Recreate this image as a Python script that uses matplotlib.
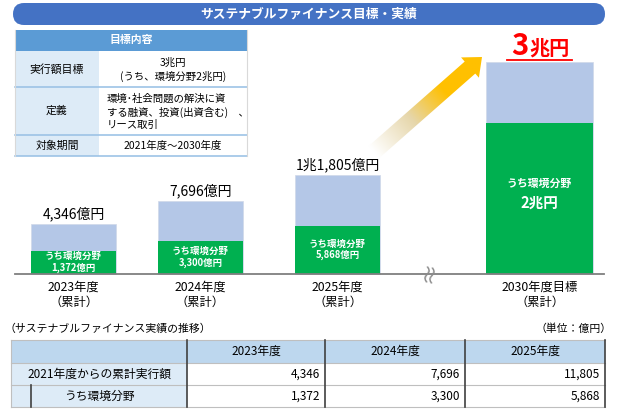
import numpy as np
import matplotlib
matplotlib.use("Agg")
import matplotlib.pyplot as plt
from matplotlib.patches import FancyBboxPatch, Rectangle, FancyArrow
from matplotlib.colors import to_rgb

plt.rcParams['font.family'] = ['Noto Sans CJK JP', 'DejaVu Sans']

# ---- data ----
years = ['2023年度', '2024年度', '2025年度', '2030年度目標']
total_labels = ['4,346億円', '7,696億円', '1兆1,805億円', '']
green_labels = ['1,372億円', '3,300億円', '5,868億円', '2兆円']
# bar heights as drawn in the picture (not to a linear scale)
total_height = [50, 73, 99, 212]
green_height = [23, 33, 48, 151]

info_rows = ['実行額目標', '定義', '対象期間']
info_text = ['3兆円\n(うち、環境分野2兆円)',
             '環境･社会問題の解決に資\nする融資、投資(出資含む)　、\nリース取引',
             '2021年度～2030年度']

tbl_cols = ['2023年度', '2024年度', '2025年度']
tbl_rows = ['2021年度からの累計実行額', 'うち環境分野']
tbl_total = ['4,346', '7,696', '11,805']
tbl_green = ['1,372', '3,300', '5,868']

# ---- layout ----
W, H = 618, 411
BLUE_LIGHT = '#B4C7E7'
GREEN = '#00B050'
bar_x = [73.5, 200.5, 337.5, 539.5]
bar_w = [85, 85, 85, 107]
base = H - 274


def Y(y):
    return H - y


fig = plt.figure(figsize=(W / 100, H / 100), dpi=100)
ax = fig.add_axes([0, 0, 1, 1])
ax.set_xlim(0, W)
ax.set_ylim(0, H)
ax.axis('off')

# title bar
ax.add_patch(FancyBboxPatch((13, Y(25)), 592, 22, boxstyle='round,pad=0,rounding_size=11',
                            fc='#4472C4', ec='none'))
ax.text(309, Y(14), 'サステナブルファイナンス目標・実績', color='white', fontsize=9.2,
        fontweight='bold', ha='center', va='center')

# info table
tl, tr, c1 = 15, 247, 99
ax.add_patch(Rectangle((tl, Y(51)), tr - tl, 21, fc='#5B9BD5', ec='none'))
ax.text((tl + tr) / 2, Y(40.5), '目標内容', color='white', fontsize=7.8, fontweight='bold',
        ha='center', va='center')
row_edges = [51, 87, 135, 156]
for i, name in enumerate(info_rows):
    y0, y1 = row_edges[i], row_edges[i + 1]
    ax.add_patch(Rectangle((tl, Y(y1)), c1 - tl, y1 - y0, fc='#DDEBF7', ec='none'))
    ax.text((tl + c1) / 2, Y((y0 + y1) / 2), name, fontsize=7.8, ha='center', va='center')
    ax.plot([tl, tr], [Y(y1), Y(y1)], color='#9DC3E6', lw=1.2)
ax.text(173, Y(70), info_text[0], fontsize=7.5, ha='center', va='center', linespacing=1.3)
ax.text(107, Y(112), info_text[1], fontsize=7.5, ha='left', va='center', linespacing=1.3)
ax.text(173, Y(146), info_text[2], fontsize=7.5, ha='center', va='center')
ax.plot([tl, tl], [Y(30), Y(156)], color='#D9D9D9', lw=0.8)
ax.plot([tr, tr], [Y(30), Y(156)], color='#D9D9D9', lw=0.8)

# bars
ax.bar(bar_x, total_height, width=bar_w, bottom=base, color=BLUE_LIGHT, edgecolor='#D0D8E8', lw=0.5)
ax.bar(bar_x, green_height, width=bar_w, bottom=base, color=GREEN, edgecolor='none')
ax.plot([15, 604], [base, base], color='#7F7F7F', lw=1.3)

for i in range(3):
    ax.text(bar_x[i], base + total_height[i] + 3, total_labels[i], fontsize=10,
            ha='center', va='bottom')
    ax.text(bar_x[i], base + green_height[i] / 2 + 0.5, 'うち環境分野\n' + green_labels[i],
            color='white', fontsize=6.8, fontweight='bold', ha='center', va='center',
            linespacing=1.15)
ax.text(bar_x[3], Y(184), 'うち環境分野', color='white', fontsize=7.8, fontweight='bold',
        ha='center', va='center')
ax.text(bar_x[3], Y(203), green_labels[3], color='white', fontsize=10.5, fontweight='bold',
        ha='center', va='center')

for i, yr in enumerate(years):
    ax.text(bar_x[i], Y(295), yr + '\n（累計）', fontsize=8.8, ha='center', va='center',
            linespacing=1.25)

# 3兆円 target
ax.text(528, Y(46), '3', color='#FF0000', fontsize=21, fontweight='bold',
        ha='right', va='center')
ax.text(529, Y(48.5), '兆円', color='#FF0000', fontsize=14.5, fontweight='bold',
        ha='left', va='center')
ax.plot([507, 572], [Y(60.5), Y(60.5)], color='#FF0000', lw=1.3)

# break mark
ax.text(430, Y(273), '≈', rotation=78, fontsize=16, color='#8C8C8C', ha='center', va='center')

# gradient arrow
tail = np.array([374.0, Y(152)])
tip = np.array([482.0, Y(57)])
d = tip - tail
arrow = FancyArrow(tail[0], tail[1], d[0], d[1], width=16, head_width=27, head_length=16,
                   length_includes_head=True, fc='none', ec='none')
ax.add_patch(arrow)
xs = np.linspace(350, 500, 200)
ys = np.linspace(Y(170), Y(45), 200)
gx, gy = np.meshgrid(xs, ys)
t = ((gx - tail[0]) * d[0] + (gy - tail[1]) * d[1]) / (d @ d)
t = np.clip(t, 0, 1)
c_white = np.array(to_rgb('#FFFFFF'))
c_tan = np.array(to_rgb('#E6D6AA'))
c_gold = np.array(to_rgb('#FFC000'))
s1 = np.clip(t / 0.35, 0, 1)[..., None]
s2 = np.clip((t - 0.35) / 0.3, 0, 1)[..., None]
img = c_white * (1 - s1) + c_tan * s1
img = img * (1 - s2) + c_gold * s2
im = ax.imshow(img, extent=(xs[0], xs[-1], ys[0], ys[-1]), origin='lower', aspect='auto',
               zorder=3)
im.set_clip_path(arrow)

# bottom table
ax.text(5, Y(329), '（サステナブルファイナンス実績の推移）', fontsize=7.8, ha='left', va='center')
ax.text(612, Y(329), '（単位：億円）', fontsize=7.8, ha='right', va='center')

L, C1, C2, C3, R = 11, 187, 325, 465, 605
ty = [340, 363, 385, 407]
ax.add_patch(Rectangle((L, Y(ty[1])), R - L, ty[1] - ty[0], fc='#BDD7EE', ec='none'))
ax.add_patch(Rectangle((L, Y(ty[3])), C1 - L, ty[3] - ty[1], fc='#DDEBF7', ec='none'))
col_edges = [C1, C2, C3, R]
for j, name in enumerate(tbl_cols):
    ax.text((col_edges[j] + col_edges[j + 1]) / 2, Y(351.5), name, fontsize=8.5,
            ha='center', va='center')
    ax.text(col_edges[j + 1] - 5, Y(374), tbl_total[j], fontsize=8.5, ha='right', va='center')
    ax.text(col_edges[j + 1] - 5, Y(396), tbl_green[j], fontsize=8.5, ha='right', va='center')
ax.text(99, Y(374), tbl_rows[0], fontsize=8.5, ha='center', va='center')
ax.text(99, Y(396), tbl_rows[1], fontsize=8.5, ha='center', va='center')

for yy in ty:
    ax.plot([L, R], [Y(yy), Y(yy)], color='#BFBFBF', lw=0.8)
for xx in [C1, C2, C3, R]:
    ax.plot([xx, xx], [Y(ty[0]), Y(ty[3])], color='#404040', lw=1.2)
ax.plot([L, L], [Y(ty[0]), Y(ty[3])], color='#BFBFBF', lw=0.8)
ax.plot([31, 31], [Y(ty[2]), Y(ty[3])], color='#404040', lw=1.2)

fig.savefig('out.png', dpi=100)
